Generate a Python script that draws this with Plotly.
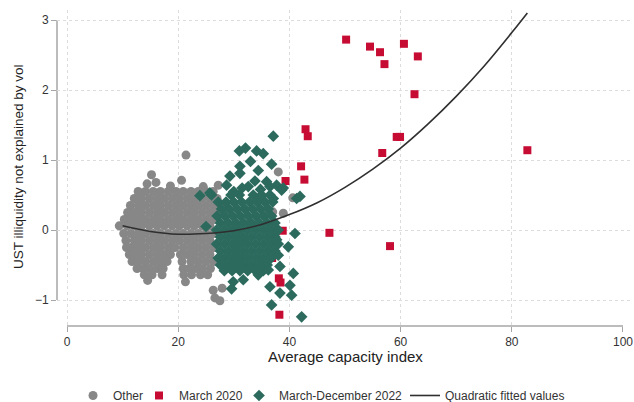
import plotly.graph_objects as go

# ---------------- data ----------------
# "Other" observations (grey circles)
other_x = [
    12.8, 14.1, 15.5, 16.8, 18.2, 19.6, 20.9, 22.3, 23.6, 25.0, 26.3,
    12.1, 13.4, 14.8, 16.2, 17.5, 18.9, 20.2, 21.6, 22.9, 24.3, 25.7, 27.0,
    11.4, 12.8, 14.1, 15.5, 16.8, 18.2, 19.6, 20.9, 22.3, 23.6, 25.0, 26.4, 27.7,
    10.9, 12.1, 13.4, 14.8, 16.2, 17.5, 18.9, 20.2, 21.6, 22.9, 24.3, 25.7, 27.0,
    10.3, 11.5, 12.8, 14.1, 15.5, 16.8, 18.2, 19.6, 20.9, 22.3, 23.6, 25.0, 26.4,
    9.4, 10.8, 12.1, 13.4, 14.8, 16.2, 17.5, 18.9, 20.2, 21.6, 22.9, 24.3, 25.7,
    10.2, 11.5, 12.8, 14.1, 15.5, 16.8, 18.2, 19.6, 20.9, 22.3, 23.6, 25.0, 26.4,
    10.6, 12.1, 13.4, 14.8, 16.2, 17.5, 18.9, 20.2, 21.6, 22.9, 24.3, 25.7,
    10.7, 11.5, 12.8, 14.1, 15.5, 16.8, 18.2, 19.4, 20.9, 22.3, 23.6, 25.0, 26.4,
    11.2, 12.1, 13.4, 14.8, 16.2, 17.5, 18.6, 20.4, 21.6, 22.9, 24.3, 25.7,
    11.7, 12.8, 14.1, 15.5, 16.8, 18.0, 20.7, 22.3, 23.6, 25.0, 26.4,
    12.6, 13.6, 14.8, 16.2, 17.3, 20.9, 22.0, 23.2, 24.4, 25.8,
    13.9, 15.3, 17.1, 21.0, 22.4, 24.0, 25.3,
    14.5, 21.3, 15.2, 16.0, 14.4, 21.4, 20.6, 18.6, 24.5, 27.2,
    26.3, 27.9, 26.6, 27.5, 38.0, 40.6, 37.0, 38.9, 32.0, 35.0,
    29.0, 30.5, 33.0, 35.5, 37.5,
]
other_y = [
    0.55, 0.55, 0.55, 0.55, 0.55, 0.55, 0.55, 0.55, 0.55, 0.55, 0.55,
    0.45, 0.45, 0.45, 0.45, 0.45, 0.45, 0.45, 0.45, 0.45, 0.45, 0.45, 0.45,
    0.35, 0.35, 0.35, 0.35, 0.35, 0.35, 0.35, 0.35, 0.35, 0.35, 0.35, 0.35, 0.35,
    0.25, 0.25, 0.25, 0.25, 0.25, 0.25, 0.25, 0.25, 0.25, 0.25, 0.25, 0.25, 0.25,
    0.15, 0.15, 0.15, 0.15, 0.15, 0.15, 0.15, 0.15, 0.15, 0.15, 0.15, 0.15, 0.15,
    0.06, 0.06, 0.06, 0.06, 0.06, 0.06, 0.06, 0.06, 0.06, 0.06, 0.06, 0.06, 0.06,
    -0.05, -0.05, -0.05, -0.05, -0.05, -0.05, -0.05, -0.05, -0.05, -0.05, -0.05, -0.05, -0.05,
    -0.15, -0.15, -0.15, -0.15, -0.15, -0.15, -0.15, -0.15, -0.15, -0.15, -0.15, -0.15,
    -0.25, -0.25, -0.25, -0.25, -0.25, -0.25, -0.25, -0.25, -0.25, -0.25, -0.25, -0.25, -0.25,
    -0.35, -0.35, -0.35, -0.35, -0.35, -0.35, -0.35, -0.35, -0.35, -0.35, -0.35, -0.35,
    -0.45, -0.45, -0.45, -0.45, -0.45, -0.45, -0.45, -0.45, -0.45, -0.45, -0.45,
    -0.55, -0.55, -0.55, -0.55, -0.55, -0.55, -0.55, -0.55, -0.55, -0.55,
    -0.64, -0.64, -0.64, -0.64, -0.64, -0.64, -0.64,
    -0.72, -0.74, 0.79, 0.68, 0.66, 1.07, 0.71, 0.63, 0.62, 0.64,
    -0.86, -0.83, -0.97, -1.01, 0.83, 0.46, 0.26, 0.24, -0.14, -0.43,
    0.30, -0.20, 0.10, 0.20, -0.05,
]

# March 2020 (red squares)
mar2020_x = [50.2, 54.5, 56.3, 60.6, 57.1, 63.1, 62.5, 59.3, 59.9, 56.7, 82.8,
             47.2, 58.1, 42.9, 43.3, 42.1, 42.7, 39.3, 38.8, 36.9, 38.1, 38.4,
             38.2, 33.7]
mar2020_y = [2.72, 2.62, 2.54, 2.66, 2.37, 2.48, 1.94, 1.33, 1.33, 1.10, 1.14,
             -0.04, -0.23, 1.44, 1.34, 0.91, 0.72, 0.70, -0.01, -0.40, -0.69, -0.75,
             -1.21, -0.54]

# March-December 2022 (green diamonds)
d2022_x = [
    26.0, 29.5, 31.0, 33.5, 35.0, 36.5,
    27.2, 28.6, 30.0, 31.4, 32.8, 34.2, 35.6, 37.0,
    27.8, 29.2, 30.6, 32.0, 33.4, 34.8, 36.2,
    27.0, 28.4, 29.8, 31.2, 32.6, 34.0, 35.4, 36.8,
    27.6, 29.0, 30.4, 31.8, 33.2, 34.6, 36.0, 37.4,
    26.9, 28.3, 29.7, 31.1, 32.5, 33.9, 35.3, 36.7, 38.0,
    27.6, 29.0, 30.4, 31.8, 33.2, 34.6, 36.0, 37.4,
    26.9, 28.3, 29.7, 31.1, 32.5, 33.9, 35.3, 36.7, 38.0,
    27.6, 29.0, 30.4, 31.8, 33.2, 34.6, 36.0, 37.4,
    27.2, 28.3, 29.7, 31.1, 32.5, 33.9, 35.3, 36.7,
    27.6, 29.0, 30.4, 31.8, 33.2, 34.6, 36.0,
    28.3, 29.7, 31.1, 32.5, 33.9, 35.3,
    37.1, 31.0, 32.1, 34.1, 35.3, 31.1, 36.8, 29.3, 31.1, 33.8,
    35.9, 37.7, 23.9, 25.7, 28.7, 38.9, 35.0, 37.1, 41.3, 41.9,
    38.6, 25.0, 41.0, 39.8, 40.7, 40.1, 36.5, 38.3, 40.4, 36.8,
    42.2, 29.9, 31.7, 29.6, 34.4, 36.2, 38.3, 38.0, 37.7, 32.6,
    30.0, 34.4, 33.0, 31.5, 34.8, 36.5,
]
d2022_y = [
    0.50, 0.50, 0.50, 0.50, 0.50, 0.50,
    0.40, 0.40, 0.40, 0.40, 0.40, 0.40, 0.40, 0.40,
    0.30, 0.30, 0.30, 0.30, 0.30, 0.30, 0.30,
    0.20, 0.20, 0.20, 0.20, 0.20, 0.20, 0.20, 0.20,
    0.10, 0.10, 0.10, 0.10, 0.10, 0.10, 0.10, 0.10,
    0.00, 0.00, 0.00, 0.00, 0.00, 0.00, 0.00, 0.00, 0.00,
    -0.10, -0.10, -0.10, -0.10, -0.10, -0.10, -0.10, -0.10,
    -0.20, -0.20, -0.20, -0.20, -0.20, -0.20, -0.20, -0.20, -0.20,
    -0.30, -0.30, -0.30, -0.30, -0.30, -0.30, -0.30, -0.30,
    -0.40, -0.40, -0.40, -0.40, -0.40, -0.40, -0.40, -0.40,
    -0.50, -0.50, -0.50, -0.50, -0.50, -0.50, -0.50,
    -0.58, -0.58, -0.58, -0.58, -0.58, -0.58,
    1.34, 1.13, 1.17, 1.13, 1.09, 0.91, 0.94, 0.77, 0.81, 0.70,
    0.69, 0.64, 0.49, 0.53, 0.64, 0.60, 0.48, 0.45, 0.45, 0.48,
    0.57, 0.05, -0.05, -0.24, -0.62, -0.79, -0.81, -0.90, -0.93, -1.07,
    -1.24, -0.74, -0.71, -0.84, -0.64, -0.57, -0.52, -0.36, -0.14, 0.62,
    0.55, 0.85, 0.98, 0.60, 0.58, 0.62,
]

# Quadratic fitted values
fit_x = [10, 15, 20, 25, 30, 35, 40, 45, 50, 55, 60, 65, 70, 75, 80, 82.8]
fit_y = [0.06, -0.02, -0.06, -0.05, -0.01, 0.08, 0.22, 0.39, 0.61, 0.87,
         1.17, 1.52, 1.91, 2.34, 2.82, 3.10]

x_ticks = [0, 20, 40, 60, 80, 100]
x_grid = [0, 20, 40, 60, 80]
y_ticks = [-1, 0, 1, 2, 3]

# ---------------- figure ----------------
FONT = "Liberation Sans, Arial, Helvetica, sans-serif"
GREY = "#878787"
RED = "#C70C33"
GREEN = "#2C6A5E"
GRID = "#dcdcdc"

fig = go.Figure()
fig.add_trace(go.Scatter(
    x=other_x, y=other_y, mode="markers", name="Other",
    marker=dict(symbol="circle", size=9, color=GREY, line=dict(width=0)),
    legendwidth=21,
))
fig.add_trace(go.Scatter(
    x=mar2020_x, y=mar2020_y, mode="markers", name="March 2020",
    marker=dict(symbol="square", size=8, color=RED, line=dict(width=0)),
    legendwidth=55,
))
fig.add_trace(go.Scatter(
    x=d2022_x, y=d2022_y, mode="markers", name="March-December 2022",
    marker=dict(symbol="diamond", size=9, color=GREEN, line=dict(width=0)),
    legendwidth=121,
))
fig.add_trace(go.Scatter(
    x=fit_x, y=fit_y, mode="lines", name="Quadratic fitted values",
    line=dict(color="#2f2f2f", width=1.6, shape="spline"),
    legendwidth=140,
))

axis_grey = "#a6a6a6"
fig.update_layout(
    width=634, height=402,
    margin=dict(l=57, r=1, t=10, b=76, autoexpand=False),
    paper_bgcolor="white", plot_bgcolor="white",
    font=dict(family=FONT, size=12, color="#333333"),
    showlegend=True,
    legend=dict(orientation="h", x=0.0278, xanchor="left", y=-0.174, yanchor="top",
                font=dict(size=12, color="#333333"), tracegroupgap=0,
                bgcolor="rgba(0,0,0,0)"),
    xaxis=dict(range=[-1.8, 101.8], tickvals=x_ticks, ticks="outside", ticklen=5,
               tickwidth=1.3, tickcolor=axis_grey, showline=False, zeroline=False,
               showgrid=False,
               minor=dict(tickvals=x_grid, showgrid=True, gridcolor=GRID,
                          griddash="dot", gridwidth=1, ticks=""),
               tickfont=dict(size=12, color="#333333")),
    yaxis=dict(range=[-1.371, 3.143], tickvals=y_ticks, ticks="outside", ticklen=5,
               tickwidth=1.3, tickcolor=axis_grey, showline=False, zeroline=False,
               showgrid=True, gridcolor=GRID, griddash="dot", gridwidth=1,
               tickfont=dict(size=12, color="#333333")),
    shapes=[
        dict(type="line", xref="x", yref="paper", x0=0, x1=100, y0=0, y1=0,
             line=dict(color=axis_grey, width=1.5), layer="below"),
        dict(type="line", xref="paper", yref="y", x0=0, x1=0, y0=-1, y1=3,
             line=dict(color=axis_grey, width=1.5), layer="below"),
    ],
    annotations=[
        dict(text="UST illiquidity not explained by vol", textangle=-90,
             xref="paper", yref="y", x=-0.0677, y=0.9, xanchor="center", yanchor="middle",
             showarrow=False, font=dict(size=13.5, color="#222222")),
        dict(text="Average capacity index", xref="x", yref="paper", x=50, y=-0.098,
             xanchor="center", yanchor="middle", showarrow=False,
             font=dict(size=15, color="#222222")),
    ],
)

fig.write_html("out.html", config={"displayModeBar": False},
               post_script="document.body.style.margin='0';document.body.style.overflow='hidden';")
